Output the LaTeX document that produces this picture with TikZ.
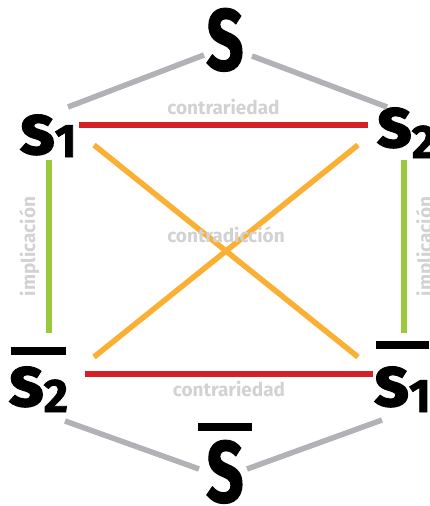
\documentclass[tikz,border=0pt]{standalone}
\usepackage{fontspec}
\setmainfont{Fira Sans}
\newfontfamily\symfont{Fira Sans}[BoldFeatures={FakeBold=1.6}]
\usepackage{tikz}
\usetikzlibrary{calc}
\definecolor{lineGrey}{RGB}{178,178,182}
\definecolor{txtGrey}{RGB}{210,210,210}
\definecolor{contRed}{RGB}{212,32,39}
\definecolor{cdOrange}{RGB}{251,176,52}
\definecolor{impGreen}{RGB}{154,202,60}
\newcommand{\sq}[2]{{\fontsize{72}{72}\selectfont s}\raisebox{#2}{\fontsize{47}{47}\selectfont #1}}
\newcommand{\negbar}[3]{\vbox{\hrule width #1 height 8pt \vskip #2 \hbox to #1{\hss #3\hss}}}

\begin{document}
\begin{tikzpicture}[x=1pt,y=-1pt,
  sym/.style={inner sep=0pt,outer sep=0pt,text=black},
  bigsym/.style={sym,xscale=0.75,font=\symfont\bfseries\fontsize{87}{87}\selectfont},
  smallsym/.style={sym,font=\symfont\bfseries},
  rel/.style={inner sep=0pt,text=txtGrey,font=\bfseries\fontsize{19}{19}\selectfont},
  greyline/.style={lineGrey,line width=5.5pt},
  redline/.style={contRed,line width=5.5pt},
  orline/.style={cdOrange,line width=5.5pt},
  grline/.style={impGreen,line width=5.5pt}]
  \useasboundingbox (0,0) rectangle (430,506);
  \node[bigsym,anchor=base] (S) at (225,70) {S};
  \node[smallsym,anchor=base west] (s1) at (20,154) {\sq{1}{-3pt}};
  \node[smallsym,anchor=base west] (s2) at (377,147) {\sq{2}{-11pt}};
  \node[smallsym,anchor=base west] (ns2) at (11,406) {\negbar{55pt}{12pt}{\sq{2}{-6pt}}};
  \node[smallsym,anchor=base west] (ns1) at (376,406) {\negbar{53pt}{18pt}{\sq{1}{-6pt}}};
  \node[bigsym,anchor=base] (nS) at (225,502) {\negbar{73pt}{9pt}{S}};

  \draw[greyline] ([shift={(-21,-15)}]S.base) -- ([shift={(48,-47)}]s1.base west);
  \draw[greyline] ([shift={(27,-14)}]S.base) -- ([shift={(10,-40)}]s2.base west);
  \draw[greyline] ([shift={(54,15)}]ns2.base west) -- ([shift={(-26,-33)}]nS.base);
  \draw[greyline] ([shift={(22,-33)}]nS.base) -- ([shift={(6,14)}]ns1.base west);

  \draw[redline] ([shift={(59,-29)}]s1.base west) -- node[rel,above=7pt] {contrariedad} ([shift={(-9,-22)}]s2.base west);
  \draw[redline] ([shift={(74,-32)}]ns2.base west) -- node[rel,below=4pt] {contrariedad} ([shift={(-3,-32)}]ns1.base west);

  \draw[orline] ([shift={(74,-9)}]s1.base west) -- ([shift={(-18,-49)}]ns1.base west);
  \draw[orline] ([shift={(-19,-2)}]s2.base west) -- node[rel,above=5pt] {contradicción} ([shift={(83,-49)}]ns2.base west);

  \draw[grline] ([shift={(38,-73)}]ns2.base west) -- node[rel,sloped,above=7pt] {implicación} ([shift={(29,6)}]s1.base west);
  \draw[grline] ([shift={(28,-73)}]ns1.base west) -- node[rel,sloped,below=9pt] {implicación} ([shift={(27,13)}]s2.base west);
\end{tikzpicture}
\end{document}
